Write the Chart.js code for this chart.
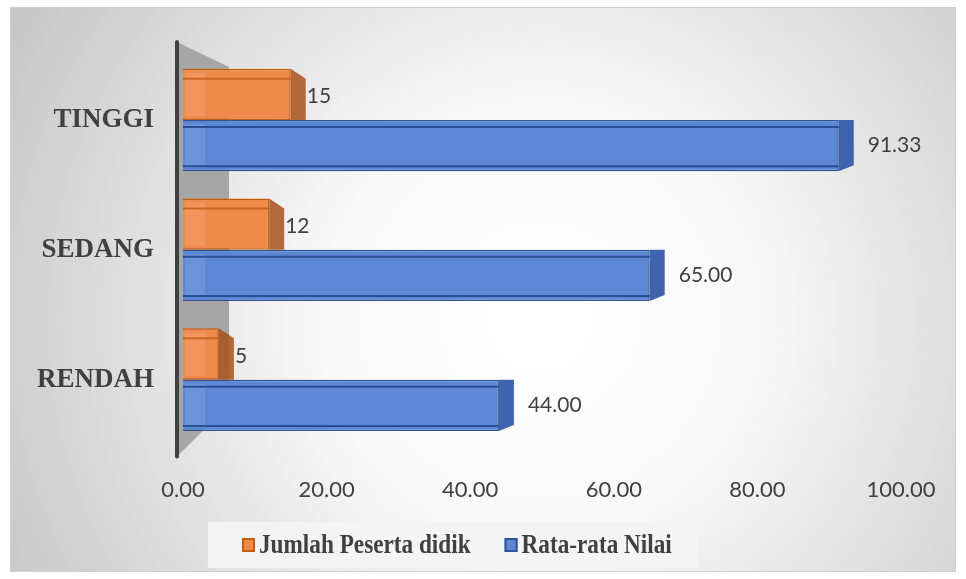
<!DOCTYPE html>
<html>
<head>
<meta charset="utf-8">
<script src="https://cdn.jsdelivr.net/npm/chart.js@4"></script>
<style>
  html, body { margin: 0; padding: 0; background: #fff; }
  #wrap { width: 966px; height: 579px; }
</style>
</head>
<body>
<div id="wrap"><canvas id="nilaiChart" width="966" height="579"></canvas></div>
<script>
// data
const kategori = ['TINGGI', 'SEDANG', 'RENDAH'];
const jumlahPeserta = [15, 12, 5];
const rataNilai = [91.33, 65.00, 44.00];
const labelJumlah = ['15', '12', '5'];
const labelRata = ['91.33', '65.00', '44.00'];
const xTicks = [0, 20, 40, 60, 80, 100];

const serif = '"Liberation Serif", "Times New Roman", serif';
const sans = 'Lato, "Open Sans", sans-serif';

// background, frame and wall
const achtergrond = {
  id: 'achtergrond',
  beforeDraw(chart) {
    const c = chart.ctx;
    const w = chart.width, h = chart.height;
    c.save();
    c.fillStyle = '#fff';
    c.fillRect(0, 0, w, h);
    const g = c.createRadialGradient(540, 320, 40, 540, 320, 640);
    g.addColorStop(0, '#ffffff');
    g.addColorStop(0.3, '#f8f8f8');
    g.addColorStop(1, '#c2c2c2');
    c.fillStyle = g;
    c.fillRect(10, 7, 946, 565);
    c.strokeStyle = '#d0d0d0';
    c.lineWidth = 1;
    c.strokeRect(10.5, 7.5, 945, 564);
    c.restore();
  },
  beforeDatasetsDraw(chart) {
    const c = chart.ctx;
    const a = chart.chartArea;
    const x0 = a.left - 6;
    c.save();
    c.fillStyle = '#a6a6a6';
    c.beginPath();
    c.moveTo(x0, a.top - 13);
    c.lineTo(x0 + 52, a.top + 12);
    c.lineTo(x0 + 52, a.bottom - 40);
    c.lineTo(x0, a.bottom + 12);
    c.closePath();
    c.fill();
    c.strokeStyle = '#404040';
    c.lineWidth = 4;
    c.lineCap = 'round';
    c.beginPath();
    c.moveTo(x0, a.top - 13);
    c.lineTo(x0, a.bottom + 12);
    c.stroke();
    c.restore();
  }
};

// fake 3D side faces + value labels
const balk3d = {
  id: 'balk3d',
  afterDatasetsDraw(chart) {
    const c = chart.ctx;
    const sides = [
      { face: 'rgba(170,80,25,0.85)', top: 'rgba(200,95,30,0.9)', labels: labelJumlah },
      { face: 'rgba(52,92,170,0.95)', top: 'rgba(40,75,145,0.95)', labels: labelRata }
    ];
    chart.data.datasets.forEach((ds, di) => {
      const meta = chart.getDatasetMeta(di);
      meta.data.forEach((bar, i) => {
        const p = bar.getProps(['x', 'y', 'base', 'height'], true);
        const top = p.y - p.height / 2;
        const bot = p.y + p.height / 2;
        const d = 15;
        c.save();
        c.fillStyle = sides[di].face;
        c.beginPath();
        c.moveTo(p.x, top);
        c.lineTo(p.x + d, top + (di === 0 ? 10 : 0));
        c.lineTo(p.x + d, bot - (di === 0 ? 0 : 6));
        c.lineTo(p.x, bot);
        c.closePath();
        c.fill();
        c.fillStyle = 'rgba(255,255,255,0.10)';
        c.fillRect(p.base + 2, top + 4, 20, p.height - 8);
        c.strokeStyle = sides[di].top;
        c.lineWidth = 2;
        c.beginPath();
        if (di === 0) {
          c.moveTo(p.base, top + 10);
          c.lineTo(p.x, top + 10);
        } else {
          c.moveTo(p.base, top + 7);
          c.lineTo(p.x, top + 7);
          c.moveTo(p.base, bot - 5);
          c.lineTo(p.x, bot - 5);
        }
        c.stroke();
        c.fillStyle = '#404040';
        c.font = '21px ' + sans;
        c.textBaseline = 'middle';
        c.textAlign = 'left';
        const ly = di === 0 ? p.y + 2 : p.y;
        c.fillText(sides[di].labels[i], p.x + d + (di === 0 ? 1 : 14), ly);
        c.restore();
      });
    });
  }
};

// legend in a light box, as in the picture (text a bit narrow, like the original)
const legendaBox = {
  id: 'legendaBox',
  afterDraw(chart) {
    const c = chart.ctx;
    const squeeze = 0.86;
    c.save();
    c.fillStyle = 'rgba(243,243,243,0.95)';
    c.fillRect(208, 522, 490, 46);
    c.font = 'bold 27px ' + serif;
    c.textBaseline = 'middle';
    c.textAlign = 'left';
    let x = 242;
    const y = 545;
    chart.data.datasets.forEach(ds => {
      c.fillStyle = ds.backgroundColor;
      c.strokeStyle = ds.borderColor;
      c.lineWidth = 2;
      c.fillRect(x, y - 7, 13, 14);
      c.strokeRect(x + 1, y - 6, 11, 12);
      c.fillStyle = '#404040';
      c.save();
      c.translate(x + 17, y + 1);
      c.scale(squeeze, 1);
      c.fillText(ds.label, 0, 0);
      c.restore();
      x += 17 + c.measureText(ds.label).width * squeeze + 34;
    });
    c.restore();
  }
};

const ctx = document.getElementById('nilaiChart').getContext('2d');
new Chart(ctx, {
  type: 'bar',
  data: {
    labels: kategori,
    datasets: [{
      label: 'Jumlah Peserta didik',
      data: jumlahPeserta,
      backgroundColor: '#ef8a4c',
      borderColor: '#c55a11',
      borderWidth: 1.5,
      categoryPercentage: 0.79,
      barPercentage: 1.0
    }, {
      label: 'Rata-rata Nilai',
      data: rataNilai,
      backgroundColor: '#5b87d5',
      borderColor: '#2f5597',
      borderWidth: 1.5,
      categoryPercentage: 0.79,
      barPercentage: 1.0
    }]
  },
  options: {
    indexAxis: 'y',
    responsive: false,
    animation: false,
    layout: { padding: { left: 16, right: 65, top: 55, bottom: 52 } },
    plugins: {
      legend: { display: false },
      tooltip: { enabled: false }
    },
    scales: {
      x: {
        min: 0,
        max: 100,
        afterBuildTicks: axis => { axis.ticks = xTicks.map(v => ({ value: v })); },
        ticks: {
          color: '#404040',
          padding: 24,
          font: { family: sans, size: 22 },
          callback: v => v.toFixed(2)
        },
        grid: { display: false },
        border: { display: false }
      },
      y: {
        ticks: {
          color: '#404040',
          padding: 21,
          font: { family: serif, size: 27, weight: 'bold' }
        },
        grid: { display: false },
        border: { display: false }
      }
    }
  },
  plugins: [achtergrond, balk3d, legendaBox]
});
</script>
</body>
</html>
